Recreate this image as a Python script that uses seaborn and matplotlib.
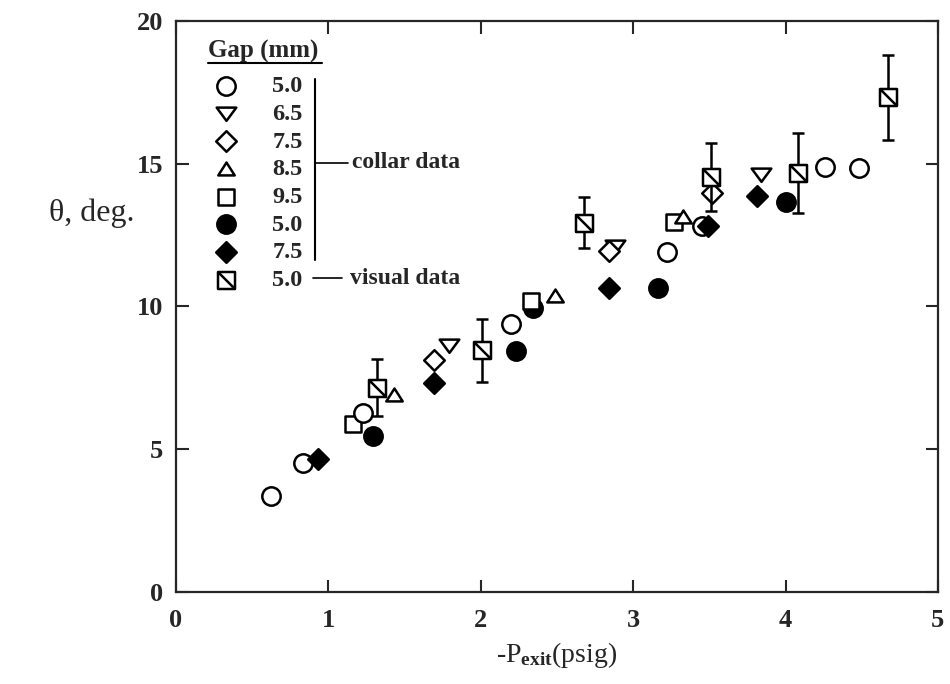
import matplotlib
matplotlib.use('Agg')
import matplotlib.pyplot as plt
import seaborn as sns
from matplotlib.path import Path

# --- data ---
gap_labels = ['5.0', '6.5', '7.5', '8.5', '9.5', '5.0', '7.5', '5.0']

circ_x = [0.62, 0.835, 1.225, 2.20, 3.22, 3.45, 4.26, 4.48]
circ_y = [3.36, 4.51, 6.27, 9.40, 11.89, 12.83, 14.90, 14.84]
tri_dn_x = [1.79, 2.88, 3.84]
tri_dn_y = [8.64, 12.13, 14.64]
dia_x = [1.69, 2.84, 3.515]
dia_y = [8.14, 11.93, 13.97]
tri_up_x = [1.43, 2.49, 3.33]
tri_up_y = [6.91, 10.37, 13.12]
sq_x = [1.16, 2.33, 3.27]
sq_y = [5.90, 10.19, 12.95]
fcirc_x = [1.29, 2.23, 2.345, 3.16, 4.00]
fcirc_y = [5.45, 8.45, 9.95, 10.66, 13.65]
fdia_x = [0.934, 1.69, 2.84, 3.49, 3.81]
fdia_y = [4.65, 7.32, 10.64, 12.83, 13.85]
vis_x = [1.32, 2.01, 2.68, 3.51, 4.08, 4.67]
vis_y = [7.15, 8.46, 12.93, 14.53, 14.67, 17.32]
vis_err = [1.0, 1.1, 0.9, 1.2, 1.4, 1.5]

# --- style ---
sns.set_style('ticks')
plt.rcParams['font.family'] = ['Liberation Serif', 'DejaVu Serif']
plt.rcParams['font.weight'] = 'bold'
plt.rcParams['mathtext.fontset'] = 'custom'
plt.rcParams['mathtext.rm'] = 'Liberation Serif:bold'
plt.rcParams['mathtext.it'] = 'Liberation Serif:bold'

# custom marker shapes
tri_down = Path([(-1, 0.6), (1, 0.6), (0, -0.75), (-1, 0.6)],
                [Path.MOVETO, Path.LINETO, Path.LINETO, Path.CLOSEPOLY])
tri_up = Path([(-1, -0.72), (1, -0.72), (0, 0.85), (-1, -0.72)],
              [Path.MOVETO, Path.LINETO, Path.LINETO, Path.CLOSEPOLY])
slash_square = Path([(-1, -1), (1, -1), (1, 1), (-1, 1), (-1, -1), (-1, 1), (1, -1)],
                    [Path.MOVETO, Path.LINETO, Path.LINETO, Path.LINETO, Path.CLOSEPOLY,
                     Path.MOVETO, Path.LINETO])

fig = plt.figure(figsize=(9.5, 6.84), dpi=100)
ax = fig.add_axes([0.1853, 0.1345, 0.802, 0.835])

lw = 1.8
common = dict(edgecolor='black', linewidth=lw, ax=ax, legend=False)

h_fcirc = sns.scatterplot(x=fcirc_x, y=fcirc_y, marker='o', s=175, color='black', zorder=2, **common).collections[-1]
h_sq = sns.scatterplot(x=sq_x, y=sq_y, marker='s', s=135, color='white', zorder=2.1, **common).collections[-1]
h_circ = sns.scatterplot(x=circ_x, y=circ_y, marker='o', s=175, color='white', zorder=2.2, **common).collections[-1]
h_tdn = sns.scatterplot(x=tri_dn_x, y=tri_dn_y, marker=tri_down, s=200, color='white', zorder=2.3, **common).collections[-1]
h_dia = sns.scatterplot(x=dia_x, y=dia_y, marker='D', s=110, color='white', zorder=2.4, **common).collections[-1]
h_tup = sns.scatterplot(x=tri_up_x, y=tri_up_y, marker=tri_up, s=140, color='white', zorder=2.5, **common).collections[-1]
h_fdia = sns.scatterplot(x=fdia_x, y=fdia_y, marker='D', s=110, color='black', zorder=2.6, **common).collections[-1]

ax.errorbar(vis_x, vis_y, yerr=vis_err, fmt='none', ecolor='black', elinewidth=1.8,
            capsize=4.5, capthick=1.8, zorder=3.5)
h_vis = sns.scatterplot(x=vis_x, y=vis_y, marker=slash_square, s=150, color='white', zorder=4, **common).collections[-1]

# axes
ax.set_xlim(0, 5)
ax.set_ylim(0, 20)
ax.set_xticks([0, 1, 2, 3, 4, 5])
ax.set_yticks([0, 5, 10, 15, 20])
ax.tick_params(direction='in', top=True, right=True, length=9, width=1.5,
               labelsize=19)
ax.tick_params(axis='x', pad=12)
ax.tick_params(axis='y', pad=9)
for sp in ax.spines.values():
    sp.set_linewidth(1.6)
    sp.set_visible(True)

ax.set_ylabel('θ, deg.', rotation=0, fontsize=23, ha='center', va='center')
ax.yaxis.set_label_coords(-0.11, 0.664)
ax.set_xlabel(r'-P$_{\mathrm{exit}}$(psig)', fontsize=20, labelpad=6)

# legend
handles = [h_circ, h_tdn, h_dia, h_tup, h_sq, h_fcirc, h_fdia, h_vis]
ax.legend(handles, gap_labels, loc='upper left', bbox_to_anchor=(0.05, 0.905),
          frameon=False, fontsize=17.5, handlelength=1.0, handletextpad=1.4,
          labelspacing=0.235, borderpad=0, borderaxespad=0, scatterpoints=1)

ax.text(0.042, 0.947, 'Gap (mm)', transform=ax.transAxes, fontsize=18,
        ha='left', va='center')
ax.plot([0.042, 0.192], [0.927, 0.927], transform=ax.transAxes, color='black', lw=1.5, clip_on=False)

# bracket annotations
ax.plot([0.182, 0.182], [0.898, 0.581], transform=ax.transAxes, color='black', lw=1.5)
ax.plot([0.182, 0.226], [0.752, 0.752], transform=ax.transAxes, color='black', lw=1.2)
ax.text(0.231, 0.752, 'collar data', transform=ax.transAxes, fontsize=17, ha='left', va='center')
ax.plot([0.180, 0.218], [0.549, 0.549], transform=ax.transAxes, color='black', lw=1.2)
ax.text(0.228, 0.549, 'visual data', transform=ax.transAxes, fontsize=17, ha='left', va='center')

fig.savefig('out.png', dpi=100)
